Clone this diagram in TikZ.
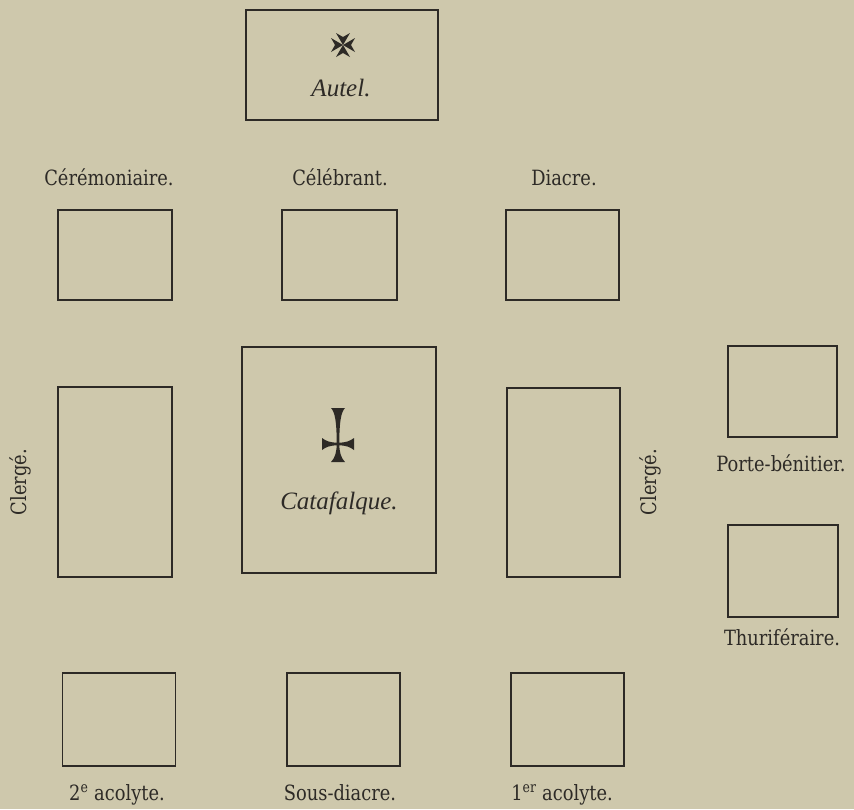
\documentclass[tikz,border=0pt]{standalone}
\usepackage{fontspec}
\setmainfont{DejaVu Serif}[FakeStretch=0.85]
\newfontfamily\lsf{Liberation Serif}
\definecolor{paper}{HTML}{CEC8AC}
\definecolor{ink}{HTML}{2D2A26}
\begin{document}
\begin{tikzpicture}[x=1pt,y=-1pt,
  seat/.style={draw=ink, line width=1.4pt, inner sep=0pt, outer sep=0pt},
  lab/.style={text=ink, inner sep=0pt, anchor=base, font=\fontsize{21}{24}\selectfont},
  ital/.style={text=ink, inner sep=0pt, anchor=base, font=\lsf\itshape\fontsize{25}{28}\selectfont}]
\fill[paper] (0,0) rectangle (854,809);
\useasboundingbox (0,0) rectangle (854,809);
% altar
\node[seat, minimum width=192pt, minimum height=110pt] (autel) at (342,65) {};
\node[ital] (autellab) at (341,96) {Autel.};
% maltese cross
\begin{scope}[shift={(343,45)}]
  \foreach \a in {0,90,180,270}{
    \fill[ink, rotate=\a] (0,0) -- (-7,-12) -- (0,-8) -- (7,-12) -- cycle;
  }
\end{scope}
% top labels
\node[lab] (cerem) at (109,185) {Cérémoniaire.};
\node[lab] (celeb) at (340,185) {Célébrant.};
\node[lab] (diacre) at (564,185) {Diacre.};
% first row of seats
\node[seat, minimum width=114pt, minimum height=90pt] (s1) at (115,255) {};
\node[seat, minimum width=115pt, minimum height=90pt] (s2) at (339.5,255) {};
\node[seat, minimum width=113pt, minimum height=90pt] (s3) at (562.5,255) {};
% middle
\node[seat, minimum width=114pt, minimum height=190pt] (clg) at (115,482) {};
\node[seat, minimum width=194pt, minimum height=226pt] (cata) at (339,460) {};
\node[seat, minimum width=113pt, minimum height=189pt] (cld) at (563.5,482.5) {};
\node[ital] (catalab) at (339,509) {Catafalque.};
% crucifix
\begin{scope}[shift={(338,444)}]
  \fill[ink] (-1.3,0) .. controls (-1.3,-22) and (-3,-32) .. (-7,-36) -- (7,-36) .. controls (3,-32) and (1.3,-22) .. (1.3,0) -- cycle;
  \fill[ink] (-1.3,0) .. controls (-1.3,8) and (-3,14) .. (-7,18) -- (7,18) .. controls (3,14) and (1.3,8) .. (1.3,0) -- cycle;
  \fill[ink] (0,-1.3) .. controls (-8,-1.3) and (-12,-3) .. (-16,-6) -- (-16,6) .. controls (-12,3) and (-8,1.3) .. (0,1.3) -- cycle;
  \fill[ink] (0,-1.3) .. controls (8,-1.3) and (12,-3) .. (16,-6) -- (16,6) .. controls (12,3) and (8,1.3) .. (0,1.3) -- cycle;
\end{scope}
\node[lab, anchor=center, rotate=90] (clergeg) at (20,482) {Clergé.};
\node[lab, anchor=center, rotate=90] (clerged) at (650,482) {Clergé.};
% right side
\node[seat, minimum width=109pt, minimum height=91pt] (porte) at (782.5,391.5) {};
\node[lab] (portelab) at (781,471) {Porte-bénitier.};
\node[seat, minimum width=110pt, minimum height=92pt] (thur) at (783,571) {};
\node[lab] (thurlab) at (782,645) {Thuriféraire.};
% bottom row
\node[seat, minimum width=113pt, minimum height=93pt] (a2) at (119,719.5) {};
\node[seat, minimum width=113pt, minimum height=93pt] (sd) at (343.5,719.5) {};
\node[seat, minimum width=113pt, minimum height=93pt] (a1) at (567.5,719.5) {};
\node[lab] (a2lab) at (117,800) {2\textsuperscript{e} acolyte.};
\node[lab] (sdlab) at (340,800) {Sous-diacre.};
\node[lab] (a1lab) at (562,800) {1\textsuperscript{er} acolyte.};
\end{tikzpicture}
\end{document}
